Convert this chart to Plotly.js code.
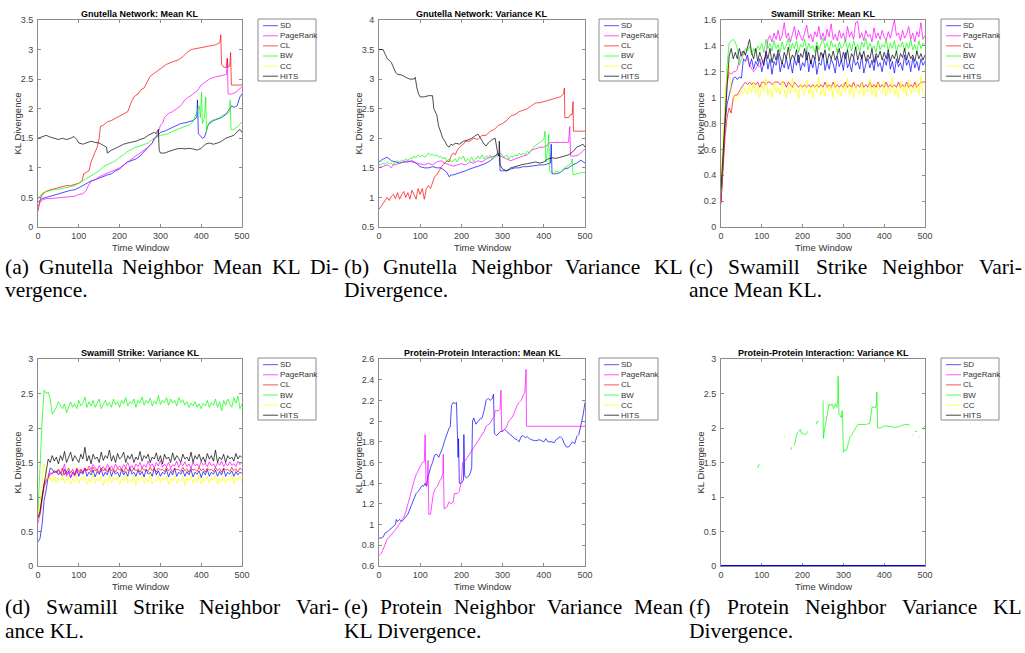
<!DOCTYPE html>
<html><head><meta charset="utf-8">
<script src="https://cdn.plot.ly/plotly-3.0.1.min.js"></script>
<style>html,body{margin:0;padding:0;background:#fff}#chart{width:1025px;height:653px}#measure{position:absolute;left:-2000px;top:0;width:1000px;height:100px}</style>
</head><body><div id="chart"></div><svg id="measure" xmlns="http://www.w3.org/2000/svg"></svg><script>
// ---------------- DATA ----------------
const seriesNames = ['SD','PageRank','CL','BW','CC','HITS'];
const timeTicks = [0,100,200,300,400,500];
const panelTitles = ['Gnutella Network: Mean KL','Gnutella Network: Variance KL','Swamill Strike: Mean KL',
  'Swamill Strike: Variance KL','Protein-Protein Interaction: Mean KL','Protein-Protein Interaction: Variance KL'];
const yRanges = [[0,3.5],[0.5,4],[0,1.6],[0,3],[0.6,2.6],[0,3]];
const yDticks = [0.5,0.5,0.2,0.5,0.2,0.5];
const xLabel = 'Time Window';
const yLabel = 'KL Divergence';

// (a) Gnutella mean KL, [time, value]
const aSD = [[0,.42],[5,.45],[10,.48],[20,.5],[30,.52],[40,.55],[50,.56],[60,.58],[70,.6],[80,.62],[90,.63],[100,.66],[110,.7],[120,.74],[130,.78],[140,.8],[150,.83],[160,.85],[170,.88],[180,.9],[190,.95],[200,.98],[210,1.05],[220,1.1],[230,1.12],[240,1.15],[250,1.2],[260,1.28],[270,1.35],[280,1.42],[285,1.5],[290,1.52],[300,1.6],[310,1.62],[320,1.65],[330,1.68],[340,1.72],[350,1.75],[360,1.76],[370,1.78],[380,1.8],[389,1.85],[391,2.15],[393,1.58],[398,1.53],[403,1.5],[408,1.52],[412,1.6],[415,1.7],[420,1.75],[430,1.8],[440,1.82],[450,1.85],[460,1.9],[465,1.95],[470,2.0],[475,2.05],[480,2.02],[488,2.05],[495,2.2],[500,2.25]];
const aPR = [[0,.34],[5,.42],[12,.46],[20,.48],[30,.48],[50,.49],[70,.5],[90,.52],[100,.55],[110,.56],[118,.62],[125,.72],[132,.78],[140,.8],[150,.85],[160,.88],[170,.9],[180,.93],[190,.97],[200,1.0],[210,1.05],[220,1.1],[230,1.15],[240,1.2],[250,1.25],[260,1.3],[270,1.35],[280,1.42],[290,1.55],[295,1.6],[300,1.72],[305,1.75],[310,1.85],[320,1.92],[330,1.95],[340,2.0],[350,2.05],[360,2.15],[370,2.2],[380,2.25],[390,2.3],[400,2.4],[410,2.45],[420,2.5],[430,2.53],[440,2.55],[450,2.56],[462,2.58],[464,2.85],[466,2.25],[475,2.25],[485,2.28],[492,2.33],[500,2.37]];
const aCL = [[0,.27],[5,.45],[10,.55],[20,.6],[30,.63],[40,.65],[50,.66],[60,.68],[70,.7],[80,.7],[90,.72],[100,.74],[108,.78],[112,.9],[120,.93],[125,.95],[130,1.1],[138,1.25],[145,1.35],[150,1.5],[153,1.7],[160,1.72],[170,1.78],[180,1.8],[190,1.84],[200,1.88],[210,1.92],[220,1.95],[228,2.1],[235,2.2],[245,2.25],[252,2.32],[260,2.35],[268,2.45],[275,2.55],[285,2.6],[295,2.65],[305,2.7],[315,2.75],[325,2.78],[335,2.8],[345,2.83],[355,2.88],[365,2.95],[375,3.0],[390,3.02],[405,3.03],[420,3.05],[435,3.08],[446,3.12],[448,3.25],[450,2.75],[455,2.7],[462,2.7],[464,2.85],[466,2.7],[470,2.72],[472,2.95],[474,2.4],[485,2.4],[500,2.4]];
const aBW = [[0,.47],[5,.52],[10,.57],[20,.6],[30,.62],[40,.63],[50,.64],[60,.65],[70,.66],[80,.68],[90,.7],[100,.74],[110,.78],[120,.82],[130,.87],[140,.9],[150,.95],[160,1.02],[170,1.05],[180,1.08],[190,1.12],[200,1.18],[210,1.22],[220,1.28],[230,1.32],[240,1.35],[250,1.37],[260,1.4],[270,1.42],[280,1.48],[290,1.52],[300,1.55],[310,1.56],[320,1.58],[330,1.62],[340,1.65],[350,1.67],[360,1.7],[370,1.72],[380,1.78],[390,1.95],[395,2.05],[398,1.85],[401,2.28],[403,1.75],[408,1.85],[411,2.2],[413,1.62],[418,1.75],[425,1.8],[435,1.82],[445,1.85],[455,1.9],[465,1.92],[470,1.95],[471,2.15],[473,1.65],[480,1.65],[490,1.7],[500,1.78]];
const aCC = [];
const aHITS = [[0,1.5],[10,1.53],[20,1.55],[30,1.52],[40,1.5],[50,1.48],[60,1.5],[70,1.48],[80,1.5],[88,1.53],[95,1.48],[100,1.42],[110,1.4],[120,1.42],[130,1.45],[140,1.43],[150,1.42],[160,1.38],[168,1.35],[170,1.25],[180,1.3],[190,1.33],[200,1.37],[210,1.4],[220,1.42],[230,1.43],[240,1.45],[250,1.48],[260,1.5],[270,1.55],[280,1.58],[285,1.6],[290,1.58],[295,1.65],[297,1.3],[300,1.25],[310,1.25],[320,1.28],[330,1.3],[340,1.32],[350,1.33],[360,1.32],[370,1.33],[380,1.32],[390,1.3],[400,1.33],[410,1.4],[420,1.42],[430,1.4],[440,1.42],[450,1.45],[460,1.5],[470,1.52],[480,1.55],[490,1.62],[495,1.65],[500,1.6]];

// (b) Gnutella variance KL
const bSD = [[0,1.6],[10,1.65],[20,1.68],[30,1.62],[40,1.6],[50,1.58],[60,1.6],[70,1.6],[80,1.62],[90,1.58],[100,1.52],[110,1.5],[120,1.5],[130,1.52],[140,1.5],[150,1.5],[160,1.45],[165,1.42],[170,1.35],[175,1.38],[180,1.38],[190,1.4],[200,1.43],[210,1.45],[220,1.48],[230,1.5],[240,1.52],[250,1.55],[260,1.58],[270,1.62],[280,1.68],[288,1.75],[292,1.72],[294,1.45],[300,1.45],[310,1.45],[320,1.48],[330,1.5],[340,1.5],[350,1.52],[360,1.52],[370,1.53],[380,1.55],[390,1.55],[400,1.55],[410,1.57],[416,1.58],[418,1.9],[420,1.4],[430,1.4],[440,1.42],[450,1.48],[460,1.5],[470,1.55],[480,1.58],[490,1.63],[500,1.58]];
const bPR = [[0,1.5],[10,1.52],[20,1.55],[25,1.53],[30,1.5],[35,1.56],[40,1.55],[50,1.58],[60,1.6],[70,1.62],[80,1.6],[90,1.58],[100,1.57],[110,1.55],[120,1.58],[130,1.55],[140,1.6],[150,1.62],[160,1.58],[170,1.55],[180,1.53],[190,1.55],[200,1.57],[210,1.55],[220,1.6],[230,1.58],[240,1.62],[250,1.6],[260,1.65],[270,1.68],[280,1.7],[290,1.72],[300,1.68],[310,1.65],[320,1.62],[330,1.65],[340,1.68],[350,1.7],[360,1.72],[370,1.8],[380,1.82],[390,1.85],[400,1.85],[408,1.88],[412,1.92],[420,1.93],[440,1.93],[460,1.93],[463,2.2],[465,1.7],[475,1.7],[485,1.72],[492,1.77],[500,1.82]];
const bCL = [[0,.8],[5,.85],[10,.92],[15,.95],[20,1.0],[25,.95],[30,1.02],[35,1.05],[40,.98],[45,1.08],[50,.97],[55,1.05],[60,1.1],[65,1.0],[70,1.08],[75,.97],[80,1.12],[85,1.05],[90,.97],[95,1.15],[100,1.05],[105,1.15],[110,.97],[115,1.15],[120,1.2],[125,1.15],[130,1.25],[135,1.35],[140,1.38],[145,1.45],[150,1.5],[155,1.55],[160,1.58],[165,1.62],[170,1.6],[175,1.7],[180,1.75],[185,1.72],[190,1.8],[195,1.85],[200,1.88],[205,1.9],[210,1.95],[220,1.95],[230,2.0],[240,1.98],[250,2.05],[260,2.05],[270,2.12],[280,2.15],[290,2.22],[300,2.25],[310,2.3],[320,2.38],[330,2.4],[340,2.45],[350,2.48],[360,2.5],[370,2.55],[380,2.6],[390,2.6],[400,2.62],[410,2.63],[420,2.65],[430,2.68],[440,2.7],[448,2.75],[450,2.85],[451,2.35],[460,2.35],[465,2.4],[469,2.4],[471,2.62],[472,2.12],[485,2.12],[500,2.12]];
const bBW = [[0,1.55],[5,1.55],[10,1.58],[15,1.56],[20,1.6],[25,1.57],[30,1.58],[35,1.55],[40,1.6],[45,1.62],[50,1.6],[55,1.63],[60,1.62],[65,1.65],[70,1.63],[75,1.66],[80,1.65],[85,1.7],[90,1.67],[95,1.72],[100,1.68],[105,1.72],[110,1.68],[115,1.7],[120,1.75],[125,1.72],[130,1.73],[135,1.7],[140,1.72],[145,1.68],[150,1.7],[155,1.65],[160,1.68],[165,1.6],[170,1.65],[175,1.6],[180,1.62],[185,1.65],[190,1.6],[195,1.68],[200,1.65],[205,1.7],[210,1.6],[215,1.65],[220,1.62],[225,1.68],[230,1.6],[235,1.65],[240,1.7],[245,1.65],[250,1.72],[255,1.65],[260,1.7],[265,1.68],[270,1.72],[275,1.65],[280,1.7],[285,1.68],[290,1.72],[295,1.75],[300,1.7],[305,1.68],[310,1.72],[315,1.65],[320,1.7],[325,1.68],[330,1.72],[335,1.7],[340,1.75],[345,1.72],[350,1.75],[355,1.72],[360,1.78],[365,1.75],[370,1.8],[375,1.85],[380,1.88],[385,1.9],[390,1.93],[395,1.95],[400,1.98],[403,2.12],[405,1.6],[408,1.75],[410,1.85],[412,2.07],[414,1.45],[420,1.42],[425,1.4],[430,1.45],[440,1.42],[450,1.5],[460,1.55],[466,1.57],[469,1.65],[471,1.38],[480,1.4],[490,1.42],[500,1.42]];
const bCC = [];
const bHITS = [[0,3.5],[10,3.5],[15,3.42],[20,3.35],[30,3.28],[35,3.2],[40,3.12],[45,3.08],[55,3.07],[65,3.03],[75,3.0],[85,3.0],[88,3.03],[92,2.85],[96,2.75],[100,2.7],[110,2.7],[120,2.72],[130,2.72],[133,2.5],[140,2.4],[145,2.2],[150,2.1],[155,2.0],[160,1.95],[165,1.88],[170,1.85],[175,1.9],[180,1.88],[185,1.92],[195,1.9],[205,1.95],[215,1.97],[225,2.0],[235,2.05],[240,2.07],[245,2.02],[250,1.95],[255,1.9],[260,1.87],[265,1.92],[275,1.98],[282,2.0],[288,1.75],[291,1.7],[292,1.95],[294,1.55],[300,1.48],[310,1.45],[320,1.5],[330,1.52],[340,1.55],[350,1.56],[360,1.57],[370,1.58],[380,1.6],[390,1.58],[400,1.6],[410,1.65],[420,1.67],[430,1.66],[440,1.68],[450,1.7],[460,1.72],[470,1.77],[480,1.85],[490,1.88],[495,1.9],[500,1.85]];

// Swamill strike: values every 5 time windows
const swamillTime = [0,5,10,15,20,25,30,35,40,45,50,55,60,65,70,75,80,85,90,95,100,105,110,115,120,125,130,135,140,145,150,155,160,165,170,175,180,185,190,195,200,205,210,215,220,225,230,235,240,245,250,255,260,265,270,275,280,285,290,295,300,305,310,315,320,325,330,335,340,345,350,355,360,365,370,375,380,385,390,395,400,405,410,415,420,425,430,435,440,445,450,455,460,465,470,475,480,485,490,495,500];
// (c) mean KL
const cSD = [0.2,0.55,0.8,0.95,1.02,1.1,1.15,1.16,1.14,1.16,
 1.15,1.3,1.28,1.33,1.24,1.3,1.22,1.28,1.25,1.3,
 1.2,1.27,1.33,1.22,1.3,1.18,1.28,1.25,1.34,1.2,
 1.27,1.23,1.31,1.22,1.28,1.19,1.3,1.25,1.33,1.21,
 1.27,1.24,1.36,1.2,1.29,1.23,1.31,1.18,1.27,1.25,
 1.34,1.21,1.28,1.22,1.3,1.26,1.19,1.32,1.24,1.29,
 1.21,1.35,1.23,1.27,1.2,1.31,1.25,1.28,1.22,1.33,
 1.19,1.26,1.3,1.23,1.29,1.21,1.32,1.24,1.27,1.2,
 1.3,1.25,1.34,1.22,1.28,1.19,1.3,1.24,1.27,1.21,
 1.33,1.25,1.29,1.2,1.31,1.23,1.28,1.21,1.3,1.25,
 1.28];
const cPR = [0.2,0.5,0.85,1.1,1.2,1.18,1.2,1.2,1.22,1.3,
 1.35,1.36,1.33,1.3,1.25,1.22,1.2,1.22,1.25,1.24,
 1.27,1.3,1.32,1.45,1.48,1.43,1.5,1.45,1.52,1.44,
 1.48,1.58,1.46,1.5,1.43,1.49,1.55,1.45,1.52,1.47,
 1.44,1.5,1.56,1.46,1.49,1.43,1.51,1.47,1.55,1.45,
 1.5,1.44,1.53,1.47,1.57,1.45,1.49,1.44,1.52,1.46,
 1.5,1.43,1.55,1.47,1.51,1.45,1.58,1.59,1.46,1.5,
 1.44,1.52,1.47,1.49,1.43,1.54,1.46,1.5,1.45,1.52,
 1.47,1.44,1.51,1.46,1.53,1.6,1.48,1.5,1.44,1.52,
 1.46,1.49,1.55,1.45,1.5,1.43,1.51,1.47,1.58,1.45,
 1.48];
const cCL = [0.18,0.45,0.7,0.85,0.92,0.88,1.0,1.02,1.02,1.05,
 1.08,1.1,1.12,1.1,1.12,1.1,1.12,1.1,1.12,1.08,
 1.12,1.12,1.1,1.12,1.12,1.1,1.12,1.12,1.12,1.1,
 1.12,1.12,1.08,1.12,1.1,1.08,1.12,1.1,1.08,1.1,
 1.08,1.1,1.08,1.1,1.08,1.1,1.08,1.1,1.08,1.1,
 1.08,1.12,1.08,1.1,1.08,1.12,1.08,1.1,1.08,1.1,
 1.08,1.12,1.08,1.1,1.08,1.12,1.08,1.1,1.08,1.12,
 1.08,1.1,1.08,1.12,1.08,1.1,1.08,1.12,1.08,1.1,
 1.08,1.12,1.08,1.1,1.08,1.1,1.08,1.12,1.08,1.1,
 1.08,1.12,1.08,1.1,1.08,1.12,1.08,1.1,1.12,1.12,
 1.12];
const cBW = [0.25,0.6,1.0,1.25,1.42,1.44,1.45,1.43,1.38,1.25,
 1.3,1.33,1.38,1.36,1.4,1.33,1.38,1.35,1.4,1.37,
 1.42,1.35,1.45,1.38,1.42,1.36,1.44,1.38,1.41,1.35,
 1.43,1.37,1.4,1.46,1.36,1.42,1.38,1.44,1.35,1.41,
 1.39,1.45,1.36,1.42,1.38,1.4,1.35,1.43,1.37,1.41,
 1.46,1.38,1.42,1.36,1.44,1.39,1.41,1.35,1.43,1.38,
 1.4,1.45,1.37,1.42,1.36,1.44,1.38,1.41,1.35,1.43,
 1.39,1.46,1.37,1.42,1.38,1.4,1.35,1.44,1.37,1.41,
 1.39,1.45,1.36,1.42,1.38,1.44,1.35,1.41,1.39,1.43,
 1.36,1.42,1.38,1.45,1.37,1.41,1.35,1.44,1.38,1.42,
 1.4];
const cCC = [0.35,0.7,1.0,1.2,1.25,1.05,1.02,0.98,1.0,1.02,
 1.05,1.03,1.08,1.02,1.1,1.04,1.12,1.03,1.08,1.0,
 1.1,1.05,1.15,1.02,1.07,1.0,1.12,1.04,1.08,1.02,
 1.13,1.05,1.0,1.09,1.03,1.15,1.04,1.07,0.99,1.11,
 1.05,1.02,1.14,1.03,1.08,1.0,1.1,1.04,1.16,1.02,
 1.07,1.01,1.12,1.05,1.09,1.0,1.13,1.03,1.07,1.01,
 1.11,1.04,1.15,1.02,1.08,1.0,1.1,1.05,1.03,1.12,
 1.01,1.07,1.04,1.14,1.02,1.09,1.0,1.11,1.05,1.03,
 1.13,1.01,1.08,1.04,1.16,1.02,1.07,1.0,1.12,1.04,
 1.09,1.01,1.14,1.03,1.08,1.05,1.11,1.02,1.17,1.04,
 1.02];
const cHITS = [0.3,0.6,0.9,1.1,1.32,1.38,1.3,1.35,1.3,1.38,
 1.32,1.36,1.33,1.4,1.45,1.35,1.3,1.38,1.28,1.35,
 1.3,1.25,1.36,1.3,1.38,1.27,1.34,1.29,1.37,1.31,
 1.26,1.35,1.3,1.39,1.28,1.33,1.3,1.37,1.27,1.34,
 1.31,1.38,1.29,1.35,1.26,1.33,1.3,1.4,1.28,1.35,
 1.31,1.37,1.27,1.34,1.3,1.36,1.29,1.33,1.38,1.28,
 1.35,1.3,1.37,1.27,1.34,1.31,1.39,1.29,1.35,1.3,
 1.36,1.28,1.33,1.3,1.38,1.27,1.34,1.31,1.36,1.29,
 1.35,1.3,1.37,1.28,1.33,1.3,1.36,1.27,1.34,1.31,
 1.38,1.29,1.35,1.3,1.33,1.28,1.36,1.3,1.34,1.29,
 1.33];
// (d) variance KL
const dSD = [0.35,0.4,0.6,0.95,1.1,1.3,1.42,1.4,1.35,1.38,
 1.32,1.36,1.3,1.4,1.33,1.38,1.28,1.36,1.32,1.4,
 1.3,1.37,1.33,1.42,1.3,1.36,1.32,1.39,1.29,1.37,
 1.33,1.4,1.3,1.36,1.32,1.42,1.3,1.38,1.33,1.36,
 1.29,1.4,1.32,1.37,1.3,1.43,1.33,1.36,1.3,1.39,
 1.32,1.37,1.29,1.4,1.33,1.36,1.3,1.42,1.32,1.38,
 1.3,1.36,1.33,1.4,1.29,1.37,1.32,1.42,1.3,1.36,
 1.33,1.39,1.3,1.37,1.32,1.4,1.29,1.36,1.33,1.38,
 1.28,1.37,1.32,1.4,1.3,1.36,1.33,1.39,1.3,1.37,
 1.32,1.41,1.3,1.36,1.33,1.38,1.3,1.37,1.32,1.36,
 1.34];
const dPR = [0.62,0.75,1.0,1.2,1.25,1.3,1.35,1.33,1.38,1.35,
 1.4,1.33,1.38,1.48,1.3,1.36,1.28,1.35,1.3,1.38,
 1.33,1.4,1.36,1.42,1.38,1.45,1.4,1.47,1.42,1.38,
 1.46,1.4,1.44,1.38,1.47,1.42,1.45,1.39,1.48,1.42,
 1.45,1.4,1.47,1.43,1.5,1.42,1.46,1.4,1.48,1.44,
 1.5,1.42,1.47,1.43,1.52,1.44,1.48,1.42,1.5,1.45,
 1.53,1.43,1.48,1.44,1.5,1.42,1.47,1.45,1.52,1.43,
 1.49,1.45,1.51,1.44,1.48,1.42,1.5,1.45,1.48,1.43,
 1.52,1.46,1.49,1.44,1.51,1.45,1.48,1.43,1.5,1.46,
 1.52,1.44,1.49,1.45,1.51,1.46,1.48,1.44,1.52,1.47,
 1.5];
const dCL = [0.7,0.75,0.95,1.15,1.22,1.28,1.33,1.35,1.38,1.35,
 1.4,1.35,1.42,1.32,1.38,1.42,1.35,1.4,1.33,1.42,
 1.37,1.4,1.35,1.42,1.38,1.41,1.36,1.43,1.38,1.4,
 1.35,1.42,1.38,1.41,1.36,1.43,1.38,1.4,1.36,1.42,
 1.39,1.41,1.36,1.43,1.38,1.4,1.37,1.42,1.38,1.41,
 1.36,1.42,1.39,1.4,1.37,1.43,1.38,1.41,1.36,1.42,
 1.39,1.4,1.37,1.43,1.38,1.41,1.36,1.42,1.39,1.4,
 1.37,1.43,1.38,1.41,1.36,1.42,1.39,1.4,1.37,1.43,
 1.38,1.41,1.36,1.42,1.39,1.4,1.37,1.43,1.38,1.41,
 1.36,1.42,1.39,1.4,1.37,1.43,1.38,1.41,1.36,1.42,
 1.39];
const dBW = [0.8,1.5,2.1,2.55,2.5,2.52,2.42,2.2,2.25,2.3,
 2.38,2.32,2.28,2.35,2.22,2.3,2.38,2.3,2.35,2.28,
 2.4,2.32,2.36,2.45,2.3,2.38,2.32,2.4,2.3,2.36,
 2.42,2.28,2.35,2.4,2.32,2.37,2.3,2.42,2.34,2.38,
 2.3,2.4,2.35,2.44,2.32,2.38,2.35,2.42,2.3,2.4,
 2.36,2.45,2.33,2.4,2.36,2.43,2.32,2.39,2.35,2.47,
 2.34,2.4,2.37,2.44,2.33,2.42,2.36,2.4,2.32,2.44,
 2.37,2.41,2.33,2.38,2.3,2.36,2.32,2.38,2.3,2.35,
 2.28,2.36,2.32,2.4,2.3,2.37,2.33,2.42,2.3,2.38,
 2.25,2.4,2.33,2.42,2.35,2.3,2.44,2.36,2.46,2.28,
 2.35];
const dCC = [0.7,0.9,1.2,1.48,1.35,1.25,1.28,1.22,1.3,1.2,
 1.28,1.24,1.32,1.2,1.27,1.3,1.18,1.26,1.22,1.33,
 1.2,1.28,1.24,1.3,1.18,1.26,1.22,1.34,1.2,1.27,
 1.23,1.3,1.17,1.26,1.22,1.32,1.2,1.28,1.24,1.3,
 1.18,1.27,1.23,1.33,1.2,1.26,1.22,1.31,1.17,1.28,
 1.24,1.3,1.2,1.27,1.22,1.34,1.19,1.26,1.23,1.31,
 1.2,1.28,1.24,1.3,1.18,1.27,1.22,1.32,1.2,1.26,
 1.23,1.3,1.17,1.28,1.24,1.31,1.2,1.27,1.22,1.33,
 1.19,1.26,1.23,1.3,1.2,1.28,1.24,1.31,1.18,1.27,
 1.22,1.3,1.2,1.26,1.23,1.32,1.19,1.28,1.24,1.3,
 1.22];
const dHITS = [0.7,0.8,1.0,1.2,1.35,1.55,1.5,1.6,1.52,1.58,
 1.48,1.6,1.53,1.66,1.5,1.58,1.65,1.52,1.6,1.55,
 1.5,1.62,1.55,1.72,1.52,1.6,1.48,1.62,1.55,1.58,
 1.5,1.65,1.53,1.6,1.56,1.68,1.52,1.6,1.5,1.63,
 1.55,1.58,1.65,1.5,1.6,1.55,1.62,1.5,1.58,1.54,
 1.66,1.52,1.6,1.56,1.62,1.5,1.58,1.55,1.64,1.52,
 1.6,1.48,1.62,1.55,1.58,1.5,1.64,1.53,1.6,1.56,
 1.5,1.62,1.55,1.58,1.52,1.65,1.5,1.6,1.55,1.62,
 1.52,1.58,1.5,1.63,1.55,1.6,1.52,1.68,1.5,1.58,
 1.54,1.62,1.5,1.6,1.55,1.58,1.52,1.63,1.55,1.6,
 1.57];

// (e) Protein mean KL
const eSD = [[0,.87],[5,.87],[10,.88],[15,.92],[20,.93],[25,.95],[30,.96],[35,.98],[40,1.0],[42,1.05],[45,1.03],[50,1.05],[55,1.03],[60,1.05],[65,1.08],[70,1.1],[75,1.15],[80,1.2],[85,1.25],[90,1.3],[95,1.32],[100,1.35],[105,1.38],[108,1.37],[112,1.4],[115,1.37],[118,1.45],[122,1.5],[125,1.55],[130,1.6],[135,1.67],[140,1.68],[145,1.65],[150,1.7],[155,1.75],[160,1.82],[165,1.88],[170,1.93],[173,1.95],[176,2.15],[180,2.18],[185,2.17],[188,2.18],[190,1.72],[192,1.65],[193,1.83],[195,1.4],[200,1.4],[205,1.43],[206,1.87],[208,1.47],[212,1.45],[218,1.47],[222,1.5],[225,1.55],[227,2.0],[230,2.03],[235,1.97],[240,2.0],[245,2.02],[250,2.03],[255,2.1],[260,2.2],[265,2.22],[270,2.2],[275,2.22],[278,2.26],[280,1.88],[285,1.86],[290,1.88],[295,1.9],[300,1.9],[305,1.92],[310,1.9],[315,1.88],[320,1.86],[325,1.85],[330,1.83],[335,1.82],[340,1.8],[345,1.85],[350,1.86],[355,1.84],[360,1.85],[365,1.83],[370,1.82],[380,1.81],[390,1.82],[400,1.8],[405,1.83],[410,1.8],[420,1.8],[425,1.79],[430,1.82],[440,1.85],[445,1.83],[450,1.78],[455,1.75],[460,1.75],[465,1.78],[470,1.8],[475,1.78],[480,1.85],[485,1.87],[490,1.95],[495,2.05],[500,2.18]];
const ePR = [[0,.7],[5,.72],[10,.76],[15,.82],[20,.86],[25,.88],[30,.9],[35,.93],[40,.95],[45,.98],[50,1.01],[55,1.03],[60,1.07],[65,1.12],[70,1.2],[75,1.27],[80,1.35],[85,1.42],[90,1.48],[95,1.52],[100,1.55],[105,1.6],[110,1.61],[112,1.87],[114,1.4],[117,1.38],[119,1.62],[121,1.1],[125,1.1],[128,1.2],[132,1.3],[137,1.35],[142,1.37],[147,1.42],[152,1.45],[155,1.5],[156,1.68],[158,1.15],[165,1.17],[170,1.22],[175,1.2],[180,1.22],[183,1.3],[190,1.3],[195,1.32],[200,1.42],[203,1.6],[210,1.62],[220,1.68],[225,1.72],[230,1.75],[240,1.8],[250,1.86],[255,1.9],[260,1.95],[270,1.98],[275,2.02],[280,2.05],[282,2.1],[290,2.1],[294,2.12],[296,2.3],[298,1.9],[305,1.92],[310,1.95],[315,2.0],[320,2.02],[325,2.05],[330,2.1],[335,2.15],[340,2.18],[345,2.2],[350,2.25],[354,2.28],[357,2.5],[358,1.95],[400,1.95],[450,1.95],[500,1.95]];
const eCL = [], eBW = [], eCC = [], eHITS = [];

// (f) Protein variance KL (null = missing values)
const fSD = [[0,0],[500,0]];
const fBW = [[90,1.42],[92,1.45],[94,1.48],[95,null],[155,1.87],[156,1.88],[157,null],[171,1.68],[173,1.72],[174,null],[180,1.75],[183,1.85],[186,1.92],[190,1.95],[194,1.98],[197,1.92],[200,1.93],[205,1.9],[210,1.92],[212,1.95],[213,null],[233,2.05],[236,2.1],[240,2.08],[241,null],[250,2.4],[251,1.85],[253,1.95],[256,2.05],[259,2.15],[262,2.3],[265,2.35],[268,2.32],[272,2.35],[276,2.28],[280,2.35],[284,2.3],[286,2.4],[287,2.75],[289,2.2],[292,2.18],[295,2.15],[297,2.25],[298,2.15],[300,1.65],[303,1.68],[308,1.68],[312,1.8],[316,1.87],[320,1.9],[325,1.95],[330,2.0],[335,2.05],[345,2.05],[355,2.05],[365,2.07],[368,2.2],[370,2.3],[380,2.3],[382,2.52],[384,2.0],[390,2.0],[400,2.03],[410,2.02],[420,2.02],[430,2.01],[440,2.03],[450,2.05],[460,2.05],[462,2.03],[463,null],[469,1.9],[471,1.9],[472,null],[475,1.95],[480,1.95],[481,null],[487,1.88],[488,1.87],[489,null],[493,1.98],[496,2.0],[500,2.03]];
const fPR = [], fCL = [], fCC = [], fHITS = [];

const captionLine1 = ['(a) Gnutella Neighbor Mean KL Di-','(b) Gnutella Neighbor Variance KL','(c) Swamill Strike Neighbor Vari-',
  '(d) Swamill Strike Neighbor Vari-','(e) Protein Neighbor Variance Mean','(f) Protein Neighbor Variance KL'];
const captionLine2 = ['vergence.','Divergence.','ance Mean KL.','ance KL.','KL Divergence.','Divergence.'];

// ---------------- LAYOUT / STYLE ----------------
const W = 1025, H = 653;
const X = p => p / W, Y = p => 1 - p / H;
const boxes = [[38,242,20,227],[379,585,20,227],[721,925,20,227],[38,242,359,566],[379,585,359,566],[721,925,359,566]];
const legendBoxes = [[258,316,19,81],[599,658,19,81],[941,999,19,81],[258,316,358,420],[599,658,358,420],[941,999,358,420]];
const lineColors = ['#0000ff','#ff00ff','#ff0000','#00ff00','#ffff00','#000000'];
const legendColors = ['#5555ff','#ff55ff','#ff5555','#55ff55','#ffff55','#444444'];
const sans = 'Liberation Sans, Arial, Helvetica, sans-serif';
const serif = "'Liberation Serif', 'Times New Roman', Times, serif";
const axisGray = '#8c8c8c';

const panelData = [
  [aSD,aPR,aCL,aBW,aCC,aHITS],
  [bSD,bPR,bCL,bBW,bCC,bHITS],
  [cSD,cPR,cCL,cBW,cCC,cHITS],
  [dSD,dPR,dCL,dBW,dCC,dHITS],
  [eSD,ePR,eCL,eBW,eCC,eHITS],
  [fSD,fPR,fCL,fBW,fCC,fHITS]
];

const traces = [];
const layout = {
  width: W, height: H, margin: {l:0,r:0,t:0,b:0},
  paper_bgcolor: '#fff', plot_bgcolor: '#fff', showlegend: false,
  shapes: [], annotations: []
};

panelData.forEach((series, i) => {
  const sfx = i === 0 ? '' : String(i + 1);
  const [l, r, t, b] = boxes[i];
  series.forEach((s, k) => {
    let xs, ys;
    if (s.length && typeof s[0] === 'number') { xs = swamillTime; ys = s; }
    else { xs = s.map(p => p[0]); ys = s.map(p => p[1]); }
    const onAxis = ys.length > 0 && ys.every(v => v === yRanges[i][0]);
    traces.push({
      type: 'scatter', mode: 'lines', x: xs, y: ys, name: seriesNames[k],
      xaxis: 'x' + sfx, yaxis: 'y' + sfx, connectgaps: false,
      line: {color: lineColors[k], width: onAxis ? 2 : 0.7}, hoverinfo: 'skip'
    });
  });
  const common = {
    showgrid: false, zeroline: false, showline: true, linecolor: axisGray, linewidth: 1,
    mirror: 'ticks', ticks: 'inside', ticklen: 3, tickcolor: axisGray, tickwidth: 1,
    tickfont: {family: sans, size: 9, color: '#444'}, fixedrange: true, layer: 'below traces'
  };
  layout['xaxis' + sfx] = Object.assign({}, common, {
    domain: [X(l), X(r)], anchor: 'y' + sfx, range: [0, 500], tickmode: 'array', tickvals: timeTicks
  });
  layout['yaxis' + sfx] = Object.assign({}, common, {
    domain: [Y(b), Y(t)], anchor: 'x' + sfx, range: yRanges[i], dtick: yDticks[i], tick0: 0, ticklabelstandoff: 2
  });
  layout.annotations.push({text: '<b>' + panelTitles[i] + '</b>', xref: 'paper', yref: 'paper',
    x: X((l + r) / 2), y: Y(t - 6), xanchor: 'center', yanchor: 'middle', showarrow: false,
    font: {family: sans, size: 9, color: '#000'}});
  layout.annotations.push({text: xLabel, xref: 'paper', yref: 'paper', x: X((l + r) / 2), y: Y(b + 20),
    xanchor: 'center', yanchor: 'middle', showarrow: false, font: {family: sans, size: 9.5, color: '#333'}});
  layout.annotations.push({text: yLabel, xref: 'paper', yref: 'paper', x: X(l - 21), y: Y((t + b) / 2),
    xanchor: 'center', yanchor: 'middle', textangle: -90, showarrow: false, font: {family: sans, size: 9.5, color: '#333'}});
  const [ll, lr, lt, lb] = legendBoxes[i];
  layout.shapes.push({type: 'rect', xref: 'paper', yref: 'paper', x0: X(ll), x1: X(lr), y0: Y(lb), y1: Y(lt),
    line: {color: axisGray, width: 1}, fillcolor: '#fff'});
  seriesNames.forEach((nm, k) => {
    const yy = lt + 6.7 + 10.1 * k;
    layout.shapes.push({type: 'line', xref: 'paper', yref: 'paper', x0: X(ll + 5), x1: X(ll + 20), y0: Y(yy), y1: Y(yy),
      line: {color: legendColors[k], width: 1}});
    layout.annotations.push({text: nm, xref: 'paper', yref: 'paper', x: X(ll + 21), y: Y(yy), xanchor: 'left',
      yanchor: 'middle', showarrow: false, borderpad: 0, font: {family: sans, size: 8, color: '#333'}});
  });
});

// captions: first line justified across the column, measured with the same SVG font
const capSize = 21.5;
const capLeft = [4, 343, 688], capRight = [338, 682, 1021];
const capY = [[266.5, 290.5], [606.5, 630.5]];
const msvg = document.getElementById('measure');
function textWidth(t) {
  const e = document.createElementNS('http://www.w3.org/2000/svg', 'text');
  e.setAttribute('style', 'font-family:' + serif + ';font-size:' + capSize + 'px');
  e.textContent = t; msvg.appendChild(e);
  const w = e.getComputedTextLength(); msvg.removeChild(e); return w;
}
captionLine1.forEach((line, i) => {
  const col = i % 3, row = Math.floor(i / 3);
  const words = line.split(' ');
  const widths = words.map(textWidth);
  const total = widths.reduce((a, b) => a + b, 0);
  const gap = (capRight[col] - capLeft[col] - total) / (words.length - 1);
  let xp = capLeft[col];
  words.forEach((w, k) => {
    layout.annotations.push({text: w, xref: 'paper', yref: 'paper', x: X(xp), y: Y(capY[row][0]),
      xanchor: 'left', yanchor: 'middle', showarrow: false, borderpad: 0,
      font: {family: serif, size: capSize, color: '#000'}});
    xp += widths[k] + gap;
  });
  layout.annotations.push({text: captionLine2[i], xref: 'paper', yref: 'paper', x: X(capLeft[col]), y: Y(capY[row][1]),
    xanchor: 'left', yanchor: 'middle', showarrow: false, borderpad: 0,
    font: {family: serif, size: capSize, color: '#000'}});
});

Plotly.newPlot('chart', traces, layout, {staticPlot: true, displayModeBar: false});
</script></body></html>
